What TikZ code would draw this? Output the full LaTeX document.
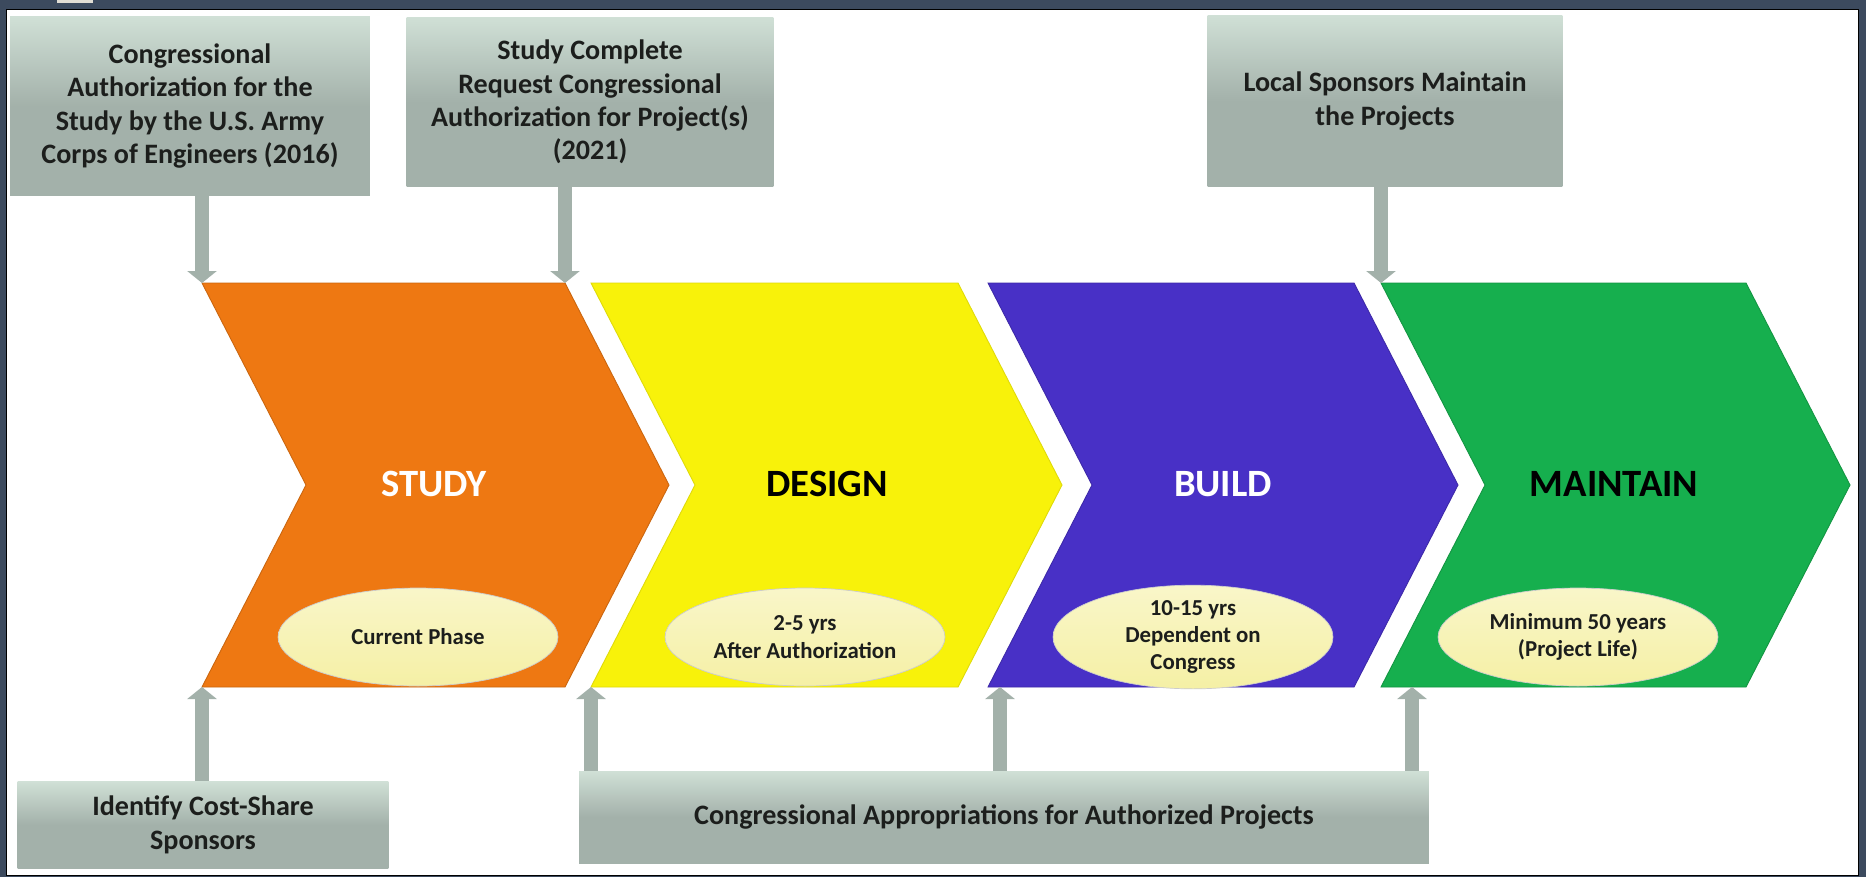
\documentclass[tikz,border=0pt]{standalone}
\usepackage{fontspec}
\setmainfont{Carlito}
\usetikzlibrary{arrows.meta,shapes.geometric}

\definecolor{framedark}{RGB}{60,74,94}
\definecolor{tabgray}{RGB}{226,222,212}
\definecolor{boxgray}{RGB}{163,177,170}
\definecolor{boxlight}{RGB}{208,224,214}
\definecolor{textdark}{RGB}{28,30,28}
\definecolor{studyorange}{RGB}{238,120,18}
\definecolor{designyellow}{RGB}{248,242,10}
\definecolor{buildpurple}{RGB}{72,48,198}
\definecolor{maintaingreen}{RGB}{22,175,78}
\definecolor{ellyellow}{RGB}{245,240,165}

\begin{document}
\begin{tikzpicture}[x=0.02cm,y=-0.02cm,
    gbox/.style={top color=boxlight, bottom color=boxgray, middle color=boxgray,
        inner sep=0pt, align=center, text=textdark,
        font=\fontsize{16}{19}\selectfont\bfseries},
    stagelabel/.style={font=\fontsize{22}{26}\selectfont\bfseries},
    timebox/.style={ellipse, top color=white!40!ellyellow, bottom color=ellyellow,
        draw=black!20, line width=0.4pt, inner sep=0pt,
        minimum width=5.6cm, minimum height=1.96cm, align=center, text=textdark,
        font=\fontsize{13}{15.5}\selectfont\bfseries},
    feed/.style={draw=boxgray, line width=0.28cm,
        -{Triangle[width=0.58cm,length=0.24cm]}}
]
\useasboundingbox (0,0) rectangle (1866,877);

% frame
\fill[framedark] (0,0) rectangle (1866,877);
\fill[white, draw=black, line width=0.5pt] (6,9) rectangle (1858,875);
\fill[tabgray] (57,0) rectangle (93,3);

% stages
\fill[studyorange, draw=studyorange!85!black, line width=0.5pt]
    (202,283) coordinate (studyTL) -- (565,283) coordinate (studyTR)
    -- (669,485) -- (565,687) -- (202,687) coordinate (studyBL) -- (306,485) -- cycle;
\fill[designyellow, draw=designyellow!90!black, line width=0.5pt]
    (591,283) -- (958,283) -- (1062,485) -- (958,687)
    -- (591,687) coordinate (designBL) -- (695,485) -- cycle;
\fill[buildpurple, draw=buildpurple!85!black, line width=0.5pt]
    (988,283) -- (1354,283) -- (1458,485) -- (1354,687)
    -- (988,687) -- (1092,485) -- cycle;
\fill[maintaingreen, draw=maintaingreen!85!black, line width=0.5pt]
    (1381,283) coordinate (maintainTL) -- (1746,283) -- (1850,485) -- (1746,687)
    -- (1381,687) -- (1485,485) -- cycle;
\coordinate (buildfoot) at (1000,687);
\coordinate (maintainfoot) at (1412,687);

\node[stagelabel, text=white] (study) at (434,484) {STUDY};
\node[stagelabel, text=black] (design) at (827,484) {DESIGN};
\node[stagelabel, text=white] (build) at (1223,484) {BUILD};
\node[stagelabel, text=black] (maintain) at (1614,484) {MAINTAIN};

\node[timebox] (phase) at (418,637) {Current Phase};
\node[timebox] (designtime) at (805,637) {2-5 yrs\\After Authorization};
\node[timebox] (buildtime) at (1193,637) {10-15 yrs\\Dependent on\\Congress};
\node[timebox] (life) at (1578,637) {Minimum 50 years\\(Project Life)};

% milestones
\node[gbox, minimum width=7.2cm, minimum height=3.58cm] (auth) at (190,106)
    {Congressional\\Authorization for the\\Study by the U.S. Army\\Corps of Engineers (2016)};
\node[gbox, minimum width=7.34cm, minimum height=3.4cm] (request) at (590,102)
    {Study Complete\\Request Congressional\\Authorization for Project(s)\\(2021)};
\node[gbox, minimum width=7.1cm, minimum height=3.44cm] (local) at (1385,101)
    {Local Sponsors Maintain\\the Projects};
\node[gbox, minimum width=7.42cm, minimum height=1.74cm] (identify) at (203,825)
    {Identify Cost-Share\\Sponsors};
\node[gbox, minimum width=17cm, minimum height=1.84cm] (approp) at (1004,817)
    {Congressional Appropriations for Authorized Projects};

\draw[feed] (auth.south -| studyTL) -- (studyTL);
\draw[feed] (request.south -| studyTR) -- (studyTR);
\draw[feed] (local.south -| maintainTL) -- (maintainTL);
\draw[feed] (identify.north -| studyBL) -- (studyBL);
\draw[feed] (approp.north -| designBL) -- (designBL);
\draw[feed] (approp.north -| buildfoot) -- (buildfoot);
\draw[feed] (approp.north -| maintainfoot) -- (maintainfoot);
\end{tikzpicture}
\end{document}
